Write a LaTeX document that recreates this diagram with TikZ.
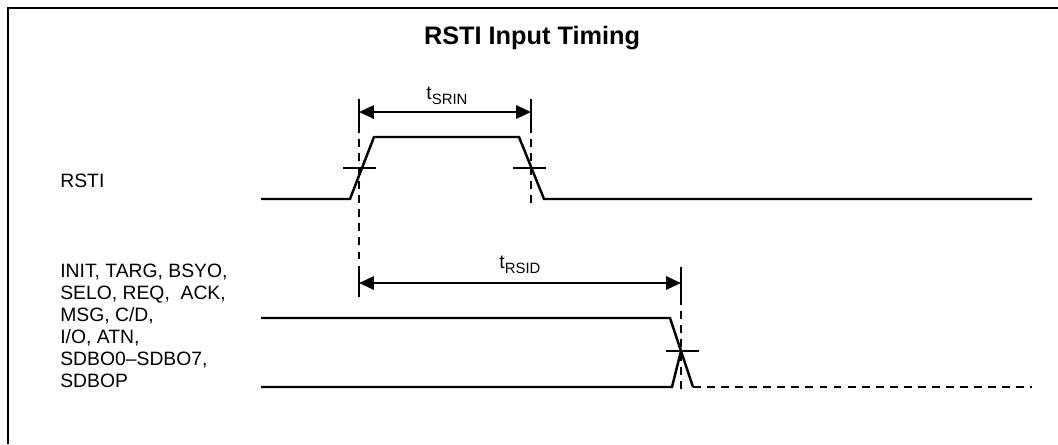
\documentclass[tikz,border=0pt]{standalone}
\usepackage{fontspec}
\setmainfont{Liberation Sans}
\usetikzlibrary{arrows.meta}

\tikzset{
  sig/.style={line width=1.4pt},
  guide/.style={line width=1.1pt, dash pattern=on 4.5pt off 3.5pt},
  dim/.style={line width=1.4pt, {Triangle[length=8.5pt,width=7.5pt]}-{Triangle[length=8.5pt,width=7.5pt]}},
  lbl/.style={font=\fontsize{11}{12.5}\selectfont, align=left, inner sep=0pt, anchor=west},
}
\newcommand{\tsub}[1]{t\raisebox{-0.45ex}{\fontsize{8.5}{10}\selectfont #1}}

\begin{document}
\begin{tikzpicture}[x=0.02cm, y=-0.02cm]
  \useasboundingbox (0,0) rectangle (1058,444);
  \draw[line width=1.3pt] (8,444) -- (8,8) -- (1058,8);
  \node[font=\fontsize{14.4}{16}\selectfont\bfseries] (title) at (532,38) {RSTI Input Timing};

  % RSTI waveform
  \coordinate (r0) at (261,199);
  \coordinate (r1) at (350,199);
  \coordinate (r2) at (374,137);
  \coordinate (r3) at (519,137);
  \coordinate (r4) at (544,199);
  \coordinate (r5) at (1032,199);
  \draw[sig] (r0) -- (r1) -- (r2) -- (r3) -- (r4) -- (r5);
  \draw[sig] (343,168) -- (376,168);
  \draw[sig] (513,168) -- (546,168);

  % output waveforms
  \coordinate (h0) at (261,318);
  \coordinate (h1) at (670,318);
  \coordinate (x) at (681,351);
  \coordinate (l0) at (261,387);
  \coordinate (l1) at (672,387);
  \coordinate (l2) at (693,387);
  \coordinate (l3) at (1032,387);
  \draw[sig] (h0) -- (h1) -- (x);
  \draw[sig] (l0) -- (l1) -- (x) -- (l2);
  \draw[sig, dash pattern=on 4.5pt off 3.5pt] (l2) -- (l3);
  \draw[sig] (666,351) -- (699,351);

  % guide lines
  \draw[guide] (359,125) -- (359,267);
  \draw[guide] (531,125) -- (531,205);
  \draw[guide] (681,297) -- (681,395);

  % tSRIN
  \draw[sig] (359,99) -- (359,125);
  \draw[sig] (531,99) -- (531,125);
  \draw[dim] (359,112) -- (531,112);
  \node[font=\fontsize{11}{12.5}\selectfont] (tsrin) at (447,96) {\tsub{SRIN}};

  % tRSID
  \draw[sig] (359,267) -- (359,297);
  \draw[sig] (681,267) -- (681,297);
  \draw[dim] (359,283) -- (681,283);
  \node[font=\fontsize{11}{12.5}\selectfont] (trsid) at (520,265) {\tsub{RSID}};

  % signal names
  \node[lbl] (rsti) at (60,181) {RSTI};
  \node[lbl] (outs) at (60,326) {INIT, TARG, BSYO,\\SELO, REQ,\ \ ACK,\\MSG, C/D,\\I/O, ATN,\\SDBO0--SDBO7,\\SDBOP};
\end{tikzpicture}
\end{document}
